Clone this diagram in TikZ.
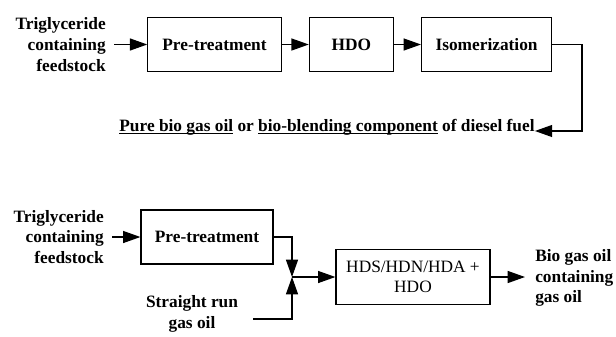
\documentclass[tikz,border=0pt]{standalone}
\usepackage{fontspec}
\setmainfont{Liberation Serif}
\usetikzlibrary{arrows.meta, positioning}
\newcommand{\diafont}{\fontsize{13}{15.5}\selectfont}
\newcommand{\uline}[1]{\underline{\smash{#1}}}
\tikzstyle{block} = [rectangle, draw, line width=0.9pt, minimum height=41pt,
    font=\diafont\bfseries, text centered]
\tikzstyle{info} = [rectangle, inner ysep=0pt, font=\diafont\bfseries]
\tikzstyle{line} = [draw, line width=0.9pt, -{Triangle[length=13pt, width=9pt]}]

\begin{document}
\begin{tikzpicture}[x=0.75pt, y=-0.75pt, node distance=20.25pt]
        \useasboundingbox (0,0) rectangle (616,336);
        % Place nodes (upper route)
        \node [block, minimum width=100pt] (pre1) at (214.5,44.5) {Pre-treatment};
        \node [block, minimum width=63pt, right=of pre1] (hdo) {HDO};
        \node [block, minimum width=97.5pt, right=of hdo] (iso) {Isomerization};
        \node [info, align=right, inner xsep=6pt, anchor=east] (feed1) at (114,44.5)
            {Triglyceride\\containing\\feedstock};
        \node [info, inner xsep=0pt] (out) at (327,127)
            {\uline{Pure bio gas oil} or \uline{bio-blending component} of diesel fuel};
        \coordinate (turn) at (582,131);
        % Place nodes (lower route)
        \node [block, minimum width=99pt, minimum height=40.5pt] (pre2) at (207,237) {Pre-treatment};
        \node [block, minimum width=115.5pt, font=\diafont, align=center] (hds) at (413,277)
            {HDS/HDN/HDA +\\HDO};
        \node [info, align=right, inner xsep=6pt, anchor=east] (feed2) at (112,237)
            {Triglyceride\\containing\\feedstock};
        \node [info, align=center] (srgo) at (192,314) {Straight run\\gas oil};
        \node [info, align=left, inner xsep=7.5pt, anchor=west] (prod) at (525,278)
            {Bio gas oil\\containing\\gas oil};
        \coordinate (mix) at (292,277);
        \coordinate (srgo_end) at (253,319);
        % Draw edges
        \path [line] (feed1.east |- pre1.west) -- (pre1.west);
        \path [line] (pre1) -- (hdo);
        \path [line] (hdo) -- (iso);
        \path [line] (iso.east) -| (turn) -- (turn -| out.east);
        \path [line] (feed2.east |- pre2.west) -- (pre2.west);
        \path [line] (pre2.east) -| (mix);
        \path [line] (srgo_end) -| (mix);
        \path [line] (mix) -- (hds.west);
        \path [line] (hds.east) -- (hds.east -| prod.west);
\end{tikzpicture}
\end{document}
